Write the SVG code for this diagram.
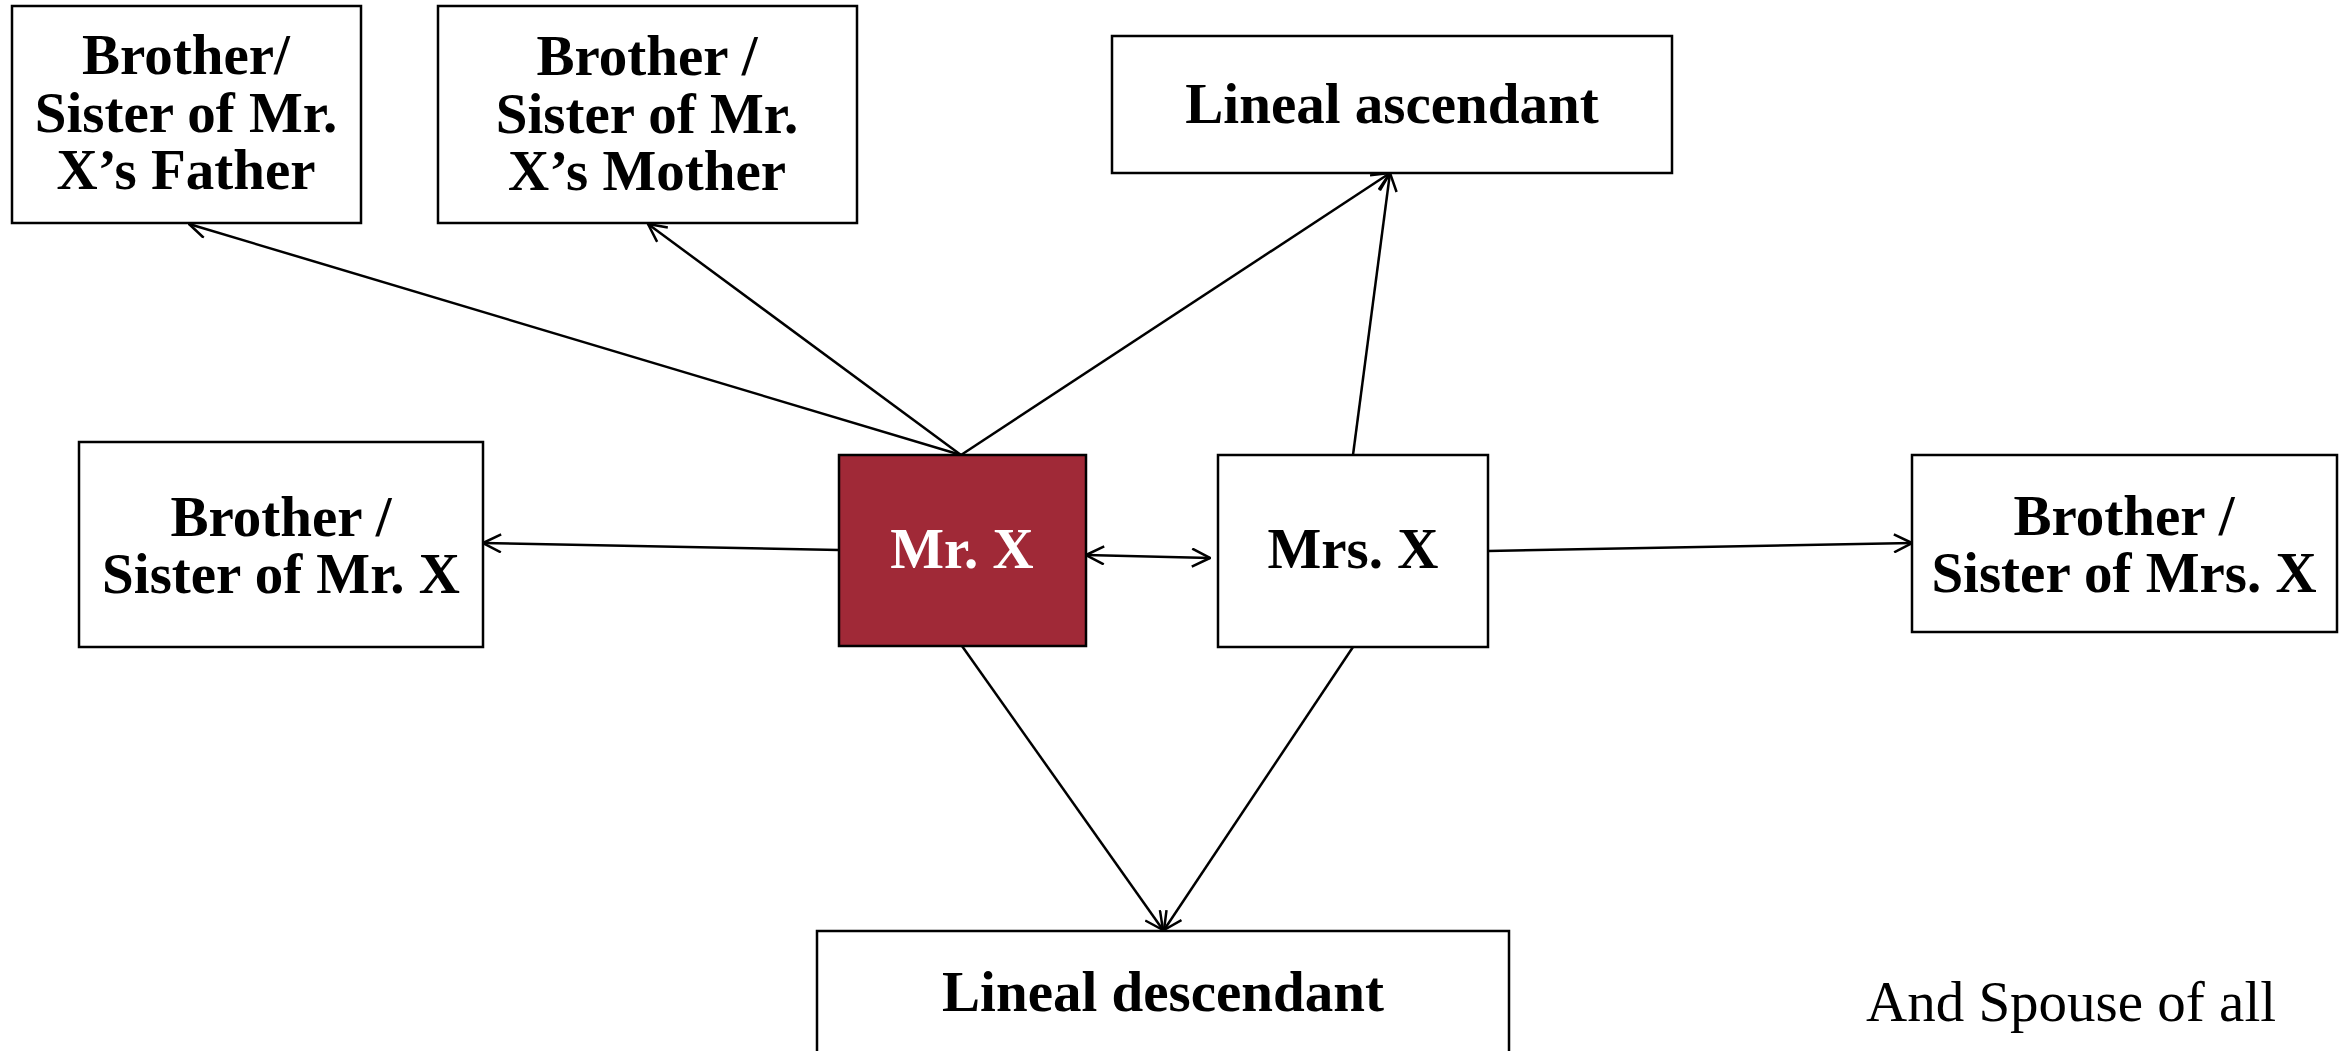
<svg xmlns="http://www.w3.org/2000/svg" width="2351" height="1051" viewBox="0 0 2351 1051">
  <style>
    .box { fill: #ffffff; stroke: #000000; stroke-width: 2.5; }
    .main { fill: #A02937; stroke: #000000; stroke-width: 2.5; }
    .lbl { font-family: "Liberation Serif", "Times New Roman", serif; font-weight: bold; font-size: 57px; fill: #000000; text-anchor: middle; }
    .lblw { font-family: "Liberation Serif", "Times New Roman", serif; font-weight: bold; font-size: 57px; fill: #ffffff; text-anchor: middle; }
    .note { font-family: "Liberation Serif", "Times New Roman", serif; font-size: 57px; fill: #000000; }
    .edge { stroke: #000000; stroke-width: 2.5; fill: none; }
  </style>
  <defs>
    <marker id="arr" viewBox="0 0 20 20" refX="19" refY="10" markerWidth="20" markerHeight="20" markerUnits="userSpaceOnUse" orient="auto-start-reverse">
      <path d="M1,1 L19,10 L1,19" fill="none" stroke="#000000" stroke-width="2.5"/>
    </marker>
  </defs>

  <g id="connectors">
    <line class="edge" x1="961" y1="455" x2="189" y2="224" marker-end="url(#arr)"/>
    <line class="edge" x1="961" y1="455" x2="648" y2="224" marker-end="url(#arr)"/>
    <line class="edge" x1="961" y1="455" x2="1390" y2="173" marker-end="url(#arr)"/>
    <line class="edge" x1="1353" y1="455" x2="1390" y2="173" marker-end="url(#arr)"/>
    <line class="edge" x1="839" y1="550" x2="483" y2="543" marker-end="url(#arr)"/>
    <line class="edge" x1="1086" y1="555" x2="1210" y2="558" marker-start="url(#arr)" marker-end="url(#arr)"/>
    <line class="edge" x1="1488" y1="551" x2="1912" y2="543" marker-end="url(#arr)"/>
    <line class="edge" x1="962" y1="646" x2="1163" y2="930" marker-end="url(#arr)"/>
    <line class="edge" x1="1353" y1="647" x2="1164" y2="930" marker-end="url(#arr)"/>
  </g>

  <g id="node-father-sibling">
    <rect class="box" x="12" y="6" width="349" height="217"/>
    <text class="lbl" x="186" y="74">Brother/</text>
    <text class="lbl" x="186" y="132">Sister of Mr.</text>
    <text class="lbl" x="186" y="189">X’s Father</text>
  </g>

  <g id="node-mother-sibling">
    <rect class="box" x="438" y="6" width="419" height="217"/>
    <text class="lbl" x="647" y="75">Brother /</text>
    <text class="lbl" x="647" y="133">Sister of Mr.</text>
    <text class="lbl" x="647" y="190">X’s Mother</text>
  </g>

  <g id="node-lineal-ascendant">
    <rect class="box" x="1112" y="36" width="560" height="137"/>
    <text class="lbl" x="1392" y="123">Lineal ascendant</text>
  </g>

  <g id="node-mrx-sibling">
    <rect class="box" x="79" y="442" width="404" height="205"/>
    <text class="lbl" x="281" y="536">Brother /</text>
    <text class="lbl" x="281" y="593">Sister of Mr. X</text>
  </g>

  <g id="node-mrx">
    <rect class="main" x="839" y="455" width="247" height="191"/>
    <text class="lblw" x="962" y="568">Mr. X</text>
  </g>

  <g id="node-mrsx">
    <rect class="box" x="1218" y="455" width="270" height="192"/>
    <text class="lbl" x="1353" y="568">Mrs. X</text>
  </g>

  <g id="node-mrsx-sibling">
    <rect class="box" x="1912" y="455" width="425" height="177"/>
    <text class="lbl" x="2124" y="535">Brother /</text>
    <text class="lbl" x="2124" y="592">Sister of Mrs. X</text>
  </g>

  <g id="node-lineal-descendant">
    <rect class="box" x="817" y="931" width="692" height="140"/>
    <text class="lbl" x="1163" y="1011">Lineal descendant</text>
  </g>

  <text class="note" x="1866" y="1021">And Spouse of all</text>
</svg>
